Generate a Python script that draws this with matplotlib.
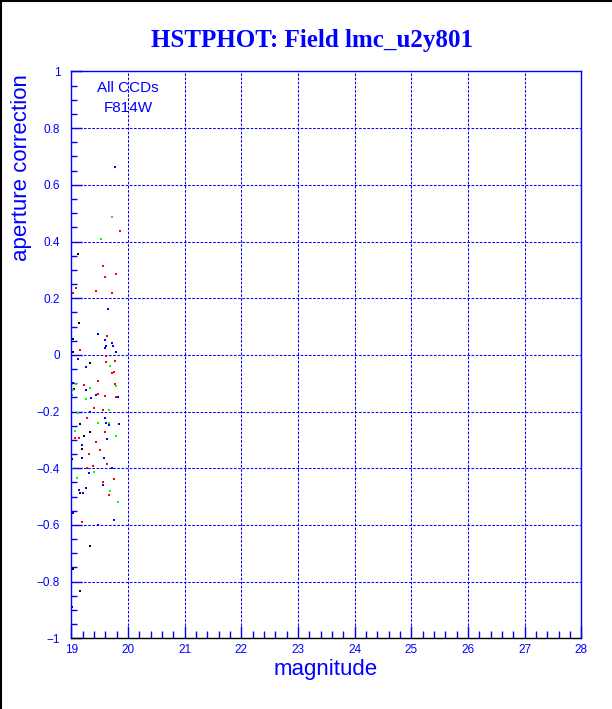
import numpy as np
import matplotlib
matplotlib.use('Agg')
import matplotlib.pyplot as plt
from matplotlib.lines import Line2D

# aperture correction vs magnitude, one set per colour
black_mag = [19.118, 19.136, 19.025, 19.035, 19.325, 19.048, 19.154, 19.330, 19.219, 19.184,
             19.012, 19.154, 19.330, 19.025, 19.154, 19.012]
black_corr = [0.355, 0.113, 0.055, 0.010, -0.027, -0.121, -0.244, -0.272, -0.287, -0.332,
              -0.367, -0.488, -0.675, -0.755, -0.834, -0.891]

red_mag = [19.859, 19.554, 19.783, 19.595, 19.078, 19.431, 19.025, 19.718, 19.625, 19.154,
           19.607, 19.612, 19.771, 19.753, 19.713, 19.466, 19.219, 19.771, 19.466, 19.595,
           19.789, 19.395, 19.559, 19.272, 19.589, 19.060, 19.131, 19.436, 19.506, 19.307,
           19.630, 19.383, 19.272, 19.753, 19.554, 19.660, 19.189]
red_corr = [0.437, 0.313, 0.287, 0.275, 0.237, 0.225, 0.220, 0.217, 0.066, 0.016,
            -0.005, -0.025, -0.022, -0.060, -0.064, -0.091, -0.106, -0.101, -0.138, -0.145,
            -0.149, -0.188, -0.193, -0.223, -0.272, -0.295, -0.292, -0.309, -0.337, -0.351,
            -0.386, -0.393, -0.400, -0.438, -0.450, -0.496, -0.591]

green_mag = [19.713, 19.519, 19.466, 19.683, 19.083, 19.789, 19.330, 19.025, 19.018, 19.259,
             19.665, 19.124, 19.466, 19.665, 19.065, 19.789, 19.018, 19.395, 19.101, 19.683,
             19.824]
green_corr = [0.487, 0.410, 0.073, -0.040, -0.104, -0.110, -0.117, -0.125, -0.140, -0.154,
              -0.195, -0.204, -0.240, -0.239, -0.269, -0.286, -0.403, -0.414, -0.436, -0.480,
              -0.520]

blue_mag = [19.776, 19.642, 19.466, 19.589, 19.713, 19.607, 19.589, 19.731, 19.783, 19.118,
            19.254, 19.035, 19.254, 19.436, 19.819, 19.348, 19.330, 19.589, 19.612, 19.660,
            19.842, 19.625, 19.184, 19.189, 19.577, 19.713, 19.312, 19.565, 19.136, 19.254,
            19.206, 19.025, 19.471, 19.753]
blue_corr = [0.662, 0.163, 0.073, 0.052, 0.042, 0.030, 0.024, 0.030, 0.010, -0.014,
             -0.043, -0.098, -0.125, -0.143, -0.147, -0.153, -0.200, -0.223, -0.239, -0.248,
             -0.244, -0.297, -0.319, -0.365, -0.365, -0.399, -0.418, -0.460, -0.476, -0.471,
             -0.488, -0.558, -0.600, -0.584]

xticks = [19, 20, 21, 22, 23, 24, 25, 26, 27, 28]
yticks = [-1, -0.8, -0.6, -0.4, -0.2, 0, 0.2, 0.4, 0.6, 0.8, 1]
ylabels = ['\u22121', '\u22120.8', '\u22120.6', '\u22120.4', '\u22120.2', '0',
           '0.2', '0.4', '0.6', '0.8', '1']

BLUE = '#0000ff'
plt.rcParams['font.family'] = ['Liberation Sans', 'DejaVu Sans']

fig = plt.figure(figsize=(6.12, 7.09), dpi=100)
ax = fig.add_axes([0.1165, 0.0997, 0.8333, 0.7995])

for m, c, col in [(black_mag, black_corr, 'black'), (red_mag, red_corr, '#ff0000'),
                  (green_mag, green_corr, '#00ff00'), (blue_mag, blue_corr, BLUE)]:
    ax.plot(m, c, 's', color=col, markersize=2.0, markeredgewidth=0, linestyle='none')

ax.set_xlim(19, 28)
ax.set_ylim(-1, 1)
ax.set_xticks(xticks)
ax.set_xticklabels([str(t) for t in xticks])
ax.set_xticks(np.arange(19, 28.01, 0.2), minor=True)
ax.set_yticks(yticks)
ax.set_yticklabels(ylabels)
ax.set_yticks(np.arange(-1, 1.001, 0.05), minor=True)

ax.tick_params(which='both', direction='in', colors=BLUE, labelcolor=BLUE, labelsize=8.5,
               top=False, right=False, width=1)
ax.tick_params(axis='x', which='major', length=9, pad=4)
ax.tick_params(axis='x', which='minor', length=5)
ax.tick_params(axis='y', which='major', length=8, pad=8)
ax.tick_params(axis='y', which='minor', length=4)

ax.grid(True, which='major', color=BLUE, linestyle=(0, (2.5, 1.5)), linewidth=0.75)
for s in ['left', 'top', 'right']:
    ax.spines[s].set_color(BLUE)
ax.spines['bottom'].set_color('black')
for s in ax.spines.values():
    s.set_linewidth(1)

ax.text(0.110, 0.971, 'All CCDs', transform=ax.transAxes, ha='center', va='center',
        color=BLUE, fontsize=11)
ax.text(0.111, 0.936, 'F814W', transform=ax.transAxes, ha='center', va='center',
        color=BLUE, fontsize=11)

fig.text(312 / 612, 1 - 40 / 709, 'HSTPHOT: Field lmc_u2y801', ha='center', va='center',
         color=BLUE, fontsize=18, fontweight='bold', family=['Liberation Serif', 'DejaVu Serif'])
fig.text(326 / 612, 1 - 669 / 709, 'magnitude', ha='center', va='center', color=BLUE, fontsize=16)
fig.text(22 / 612, 1 - 74 / 709, 'aperture correction', ha='center', va='top', rotation=90,
         color=BLUE, fontsize=16)

# black frame on the left and top edges
fig.add_artist(Line2D([0.001, 0.001], [0, 1], transform=fig.transFigure, color='black', lw=1.5))
fig.add_artist(Line2D([0, 1], [0.999, 0.999], transform=fig.transFigure, color='black', lw=1.5))

fig.savefig('out.png', dpi=100)
